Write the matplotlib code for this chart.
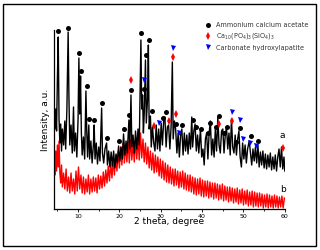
import matplotlib
matplotlib.use("Agg")
import matplotlib.pyplot as plt
from matplotlib.patches import Rectangle

# trace a (black) - 2theta / intensity
a_x = [4.2, 4.4, 4.6, 4.8, 5.0, 5.2, 5.4, 5.6, 5.8, 6.0, 6.2, 6.5, 6.8, 7.0, 7.3, 7.6, 7.8, 8.0, 8.3, 8.6,
       8.9, 9.1, 9.4, 9.7, 10.0, 10.2, 10.4, 10.6, 10.8, 11.0, 11.3, 11.6, 11.9, 12.1, 12.3, 12.6, 12.8, 13.1,
       13.4, 13.7, 13.9, 14.1, 14.4, 14.7, 15.0, 15.3, 15.7, 15.9, 16.2, 16.5, 16.9, 17.1, 17.4, 17.7, 18.0,
       18.3, 18.6, 18.9, 19.2, 19.5, 19.8, 20.1, 20.4, 20.7, 21.0, 21.3, 21.6, 21.9, 22.3, 22.5, 22.8, 23.0,
       23.3, 23.6, 23.9, 24.2, 24.5, 24.8, 25.2, 25.4, 25.6, 25.8, 26.0, 26.3, 26.5, 26.8, 27.0, 27.2, 27.5,
       27.7, 28.0, 28.3, 28.6, 28.9, 29.2, 29.5, 29.8, 30.1, 30.4, 30.7, 31.0, 31.3, 31.6, 31.9, 32.2, 32.5,
       32.8, 33.0, 33.3, 33.6, 33.9, 34.2, 34.5, 34.8, 35.1, 35.4, 35.7, 36.0, 36.3, 36.6, 36.9, 37.2, 37.5,
       37.7, 38.0, 38.3, 38.6, 38.9, 39.2, 39.6, 39.9, 40.2, 40.5, 40.8, 41.1, 41.4, 41.7, 42.0, 42.3, 42.6,
       42.9, 43.2, 43.5, 43.8, 44.1, 44.4, 44.7, 45.0, 45.3, 45.6, 45.9, 46.2, 46.5, 46.8, 47.1, 47.4, 47.7,
       48.0, 48.3, 48.6, 48.9, 49.2, 49.5, 49.8, 50.1, 50.4, 50.7, 51.0, 51.4, 51.7, 52.0, 52.3, 52.6, 52.9,
       53.2, 53.5, 53.8, 54.1, 54.4, 54.7, 55.0, 55.3, 55.6, 55.9, 56.2, 56.5, 56.8, 57.1, 57.4, 57.7, 58.0,
       58.3, 58.6, 58.9, 59.2, 59.5, 59.8, 60.0]
a_y = [95, 80, 100, 78, 130, 172, 90, 66, 85, 58, 80, 64, 88, 60, 100, 177, 110, 64, 84, 56,
       102, 58, 76, 52, 90, 151, 95, 133, 76, 54, 72, 50, 118, 78, 52, 84, 50, 68,
       46, 64, 84, 50, 66, 45, 62, 48, 101, 56, 46, 60, 66, 44, 58, 42, 57,
       43, 58, 41, 55, 46, 63, 48, 62, 50, 75, 54, 68, 56, 89, 60, 114, 62,
       74, 56, 78, 60, 80, 64, 169, 100, 114, 76, 95, 149, 86, 110, 164, 80, 93,
       62, 82, 66, 58, 84, 60, 80, 58, 86, 64, 88, 92, 62, 82, 84, 60, 82,
       147, 70, 88, 80, 56, 76, 52, 74, 80, 54, 76, 58, 74, 55, 76, 60, 92,
       62, 78, 85, 58, 74, 56, 80, 52, 60, 44, 70, 76, 50, 76, 88, 54, 70,
       52, 80, 58, 92, 64, 56, 78, 80, 56, 74, 82, 60, 76, 54, 90, 62, 56,
       74, 54, 70, 78, 52, 42, 66, 50, 64, 46, 60, 68, 56, 44, 60, 48, 62,
       46, 64, 42, 57, 44, 58, 41, 55, 40, 54, 42, 56, 39, 52, 40, 54, 38,
       52, 60, 42, 62, 40, 52, 38]

# trace b (red)
b_x = [4.2, 4.4, 4.6, 4.8, 5.0, 5.2, 5.4, 5.6, 5.8, 6.0, 6.2, 6.5, 6.8, 7.1, 7.4, 7.7, 8.0, 8.3, 8.6, 8.9,
       9.2, 9.5, 9.8, 10.1, 10.4, 10.7, 11.0, 11.3, 11.6, 11.9, 12.2, 12.5, 12.8, 13.1, 13.4, 13.7, 14.0,
       14.3, 14.6, 14.9, 15.2, 15.5, 15.8, 16.1, 16.4, 16.7, 17.0, 17.3, 17.6, 17.9, 18.2, 18.5, 18.8, 19.1,
       19.4, 19.7, 20.0, 20.3, 20.6, 20.9, 21.2, 21.5, 21.8, 22.1, 22.4, 22.7, 23.0, 23.3, 23.6, 23.9, 24.2,
       24.5, 24.8, 25.1, 25.4, 25.7, 26.0, 26.3, 26.6, 26.9, 27.2, 27.5, 27.8, 28.1, 28.4, 28.7, 29.0, 29.3,
       29.6, 29.9, 30.2, 30.5, 30.8, 31.1, 31.4, 31.7, 32.0, 32.3, 32.6, 32.9, 33.2, 33.5, 33.8, 34.1, 34.4,
       34.7, 35.0, 35.3, 35.6, 35.9, 36.2, 36.5, 36.8, 37.1, 37.4, 37.7, 38.0, 38.3, 38.6, 38.9, 39.2, 39.5,
       39.8, 40.1, 40.4, 40.7, 41.0, 41.3, 41.6, 41.9, 42.2, 42.5, 42.8, 43.1, 43.4, 43.7, 44.0, 44.3, 44.6,
       44.9, 45.2, 45.5, 45.8, 46.1, 46.4, 46.7, 47.0, 47.3, 47.6, 47.9, 48.2, 48.5, 48.8, 49.1, 49.4, 49.7,
       50.0, 50.3, 50.6, 50.9, 51.2, 51.5, 51.8, 52.1, 52.4, 52.7, 53.0, 53.3, 53.6, 53.9, 54.2, 54.5, 54.8,
       55.1, 55.4, 55.7, 56.0, 56.3, 56.6, 56.9, 57.2, 57.5, 57.8, 58.1, 58.4, 58.7, 59.0, 59.3, 59.6, 59.9]
b_y = [45, 34, 58, 38, 64, 42, 68, 36, 26, 44, 22, 36, 20, 40, 18, 32, 16, 36, 18, 30,
       15, 38, 18, 42, 20, 34, 16, 32, 15, 30, 17, 34, 15, 30, 17, 32, 18,
       31, 16, 34, 20, 33, 21, 37, 23, 39, 26, 43, 28, 46, 31, 50, 34, 54,
       38, 58, 41, 62, 44, 66, 46, 64, 47, 68, 46, 70, 49, 66, 47, 69, 50,
       72, 49, 76, 51, 70, 47, 66, 45, 62, 41, 58, 39, 56, 36, 54, 37, 52,
       33, 50, 31, 48, 29, 46, 27, 44, 26, 42, 25, 40, 23, 40, 24, 38, 21,
       37, 22, 38, 20, 36, 19, 34, 18, 34, 17, 32, 15, 31, 14, 30, 15, 31,
       13, 29, 12, 28, 13, 28, 11, 27, 12, 26, 10, 26, 11, 25, 9, 24, 10,
       25, 8, 23, 9, 22, 7, 22, 8, 21, 6, 20, 7, 21, 5, 19, 6, 20,
       4, 18, 5, 19, 3, 17, 4, 18, 2, 17, 3, 16, 2, 16, 3, 15, 1,
       14, 2, 15, 1, 14, 2, 13, 1, 14, 2, 13, 1, 12, 2, 13, 1, 11]

# phase markers
acetate_x = [5.2, 7.6, 10.2, 10.7, 12.1, 12.75, 13.95, 15.9, 17.1, 19.95, 21.2, 22.4, 22.9, 25.3, 26.0,
             26.5, 27.2, 27.9, 30.6, 31.2, 33.6, 35.2, 37.7, 38.6, 39.7, 41.4, 42.0, 43.3, 44.0, 45.3,
             46.1, 48.3, 49.2, 51.8, 53.5]
acetate_y = [178, 181, 156, 138, 123, 90, 89, 106, 71, 68, 80, 94, 119, 176, 120,
             154, 169, 98, 91, 97, 85, 84, 89, 82, 80, 76, 86, 82, 93, 76,
             82, 67, 81, 73, 68]
silicate_x = [22.9, 28.4, 31.9, 32.9, 33.6, 44.0, 47.2, 59.5]
silicate_y = [129, 83, 88, 152, 95, 85, 88, 61]
hap_x = [26.0, 29.6, 32.9, 34.5, 47.2, 49.2, 50.0, 51.7, 53.0]
hap_y = [129, 86, 161, 76, 97, 89, 70, 66, 63]

fig = plt.figure(figsize=(3.2, 2.5), dpi=100)
ax = fig.add_axes([0.169, 0.164, 0.721, 0.716])

ax.plot(b_x, b_y, color="red", lw=1.0)
ax.plot(a_x, a_y, color="black", lw=1.0)

ax.plot(acetate_x, acetate_y, "o", color="black", ms=3.6, mew=0, clip_on=False,
        label="Ammonium calcium acetate")
ax.plot(silicate_x, silicate_y, "d", color="red", ms=4.0, mew=0, clip_on=False,
        label=r"Ca$_{\mathregular{10}}$(PO$_{\mathregular{4}}$)$_{\mathregular{3}}$(SiO$_{\mathregular{4}}$)$_{\mathregular{3}}$")
ax.plot(hap_x, hap_y, "v", color="blue", ms=3.6, mew=0, clip_on=False,
        label="Carbonate hydroxylapatite")

ax.text(59.3, 73, "a", fontsize=6.5, ha="center", va="center")
ax.text(59.5, 19, "b", fontsize=6.5, ha="center", va="center")

ax.set_xlim(4.2, 60)
ax.set_ylim(0, 179)
ax.set_xticks([10, 20, 30, 40, 50, 60])
ax.set_xticks([5, 15, 25, 35, 45, 55], minor=True)
ax.set_yticks([])
ax.spines["top"].set_visible(False)
ax.spines["right"].set_visible(False)
ax.spines["left"].set_linewidth(0.9)
ax.spines["bottom"].set_linewidth(0.9)
ax.tick_params(axis="x", which="major", direction="out", length=2.5, width=0.6, labelsize=4.5, pad=1)
ax.tick_params(axis="x", which="minor", direction="out", length=1.5, width=0.6)

ax.set_xlabel("2 theta, degree", fontsize=6.5, labelpad=-1)
ax.set_ylabel("Intensity, a.u.", fontsize=6.5, labelpad=3)

ax.legend(loc="upper left", bbox_to_anchor=(0.635, 1.07), frameon=False, fontsize=4.7,
          handlelength=1.0, handletextpad=0.6, labelspacing=0.5, labelcolor="#333333", borderpad=0.2)

fig.patches.append(Rectangle((0.009, 0.016), 0.979, 0.968, transform=fig.transFigure,
                             fill=False, edgecolor="black", lw=1.0))

fig.savefig("out.png", dpi=100)
